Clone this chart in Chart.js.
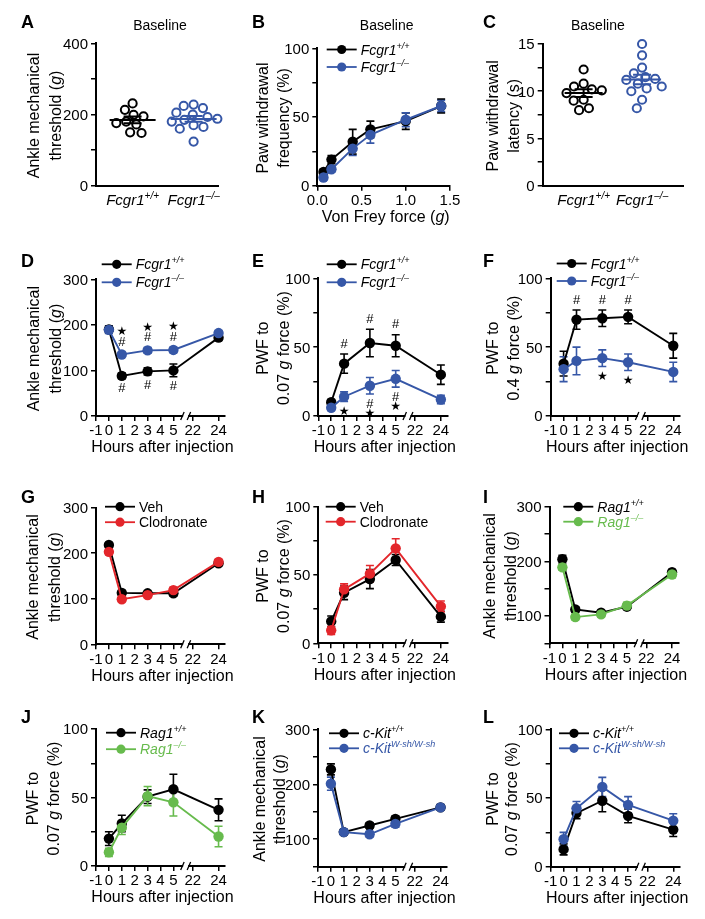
<!DOCTYPE html>
<html>
<head>
<meta charset="utf-8">
<script src="https://cdn.jsdelivr.net/npm/chart.js@4.4.1/dist/chart.umd.min.js"></script>
<style>
  body { margin: 0; background: #fff; }
  #wrap { position: relative; width: 705px; height: 919px; }
  #wrap canvas { position: absolute; left: 0; top: 0; }
</style>
</head>
<body>
<div id="wrap"></div>
<script>
const W = 705, H = 919;
const FONT = '"Liberation Sans", Arial, Helvetica, sans-serif';
const BLACK = '#000000', BLUE = '#3657a7', RED = '#e3262b', GREEN = '#67bb4d';

// ---- A / C: baseline scatter (one value per mouse) ----
const aThreshWt = [231, 213, 199, 195, 180, 176, 172, 150, 148];
const aThreshKo = [228, 224, 218, 205, 200, 193, 188, 185, 180, 170, 165, 160, 124];
const cLatencyWt = [12.3, 10.8, 10.5, 10.2, 10.1, 9.8, 9.1, 9.0, 8.2, 8.0];
const cLatencyKo = [15.0, 13.8, 12.5, 11.9, 11.5, 11.3, 11.2, 10.8, 10.5, 10.3, 10.0, 9.1, 8.2];

// ---- B: von Frey curve ----
const vonFrey = [0.07, 0.16, 0.4, 0.6, 1.0, 1.4];
const bPwfWt = [10, 19, 32, 41, 47, 58];
const bPwfWtSem = [2, 3, 9, 6, 6, 5];
const bPwfKo = [6, 12, 27, 37, 48, 58];
const bPwfKoSem = [2, 2, 5, 6, 5, 4];

// ---- D-L: time courses ----
const hours = [0, 1, 3, 5, 24];
const hourTicks = [-1, 0, 1, 2, 3, 4, 5, 22, 24];

const dWt = [190, 88, 98, 100, 172], dWtSem = [8, 6, 8, 14, 6];
const dKo = [189, 135, 144, 145, 182], dKoSem = [8, 5, 6, 6, 5];
const eWt = [10, 38, 53, 51, 30], eWtSem = [2, 7, 10, 8, 7];
const eKo = [6, 14, 22, 27, 12], eKoSem = [2, 3.5, 6, 6, 3];
const fWt = [38, 70, 71, 72, 51], fWtSem = [9, 7, 6, 5, 9];
const fKo = [34, 40, 42, 39, 32], fKoSem = [9, 10, 6, 6, 7];
const gVeh = [218, 113, 112, 112, 178], gVehSem = [5, 5, 4, 6, 5];
const gClod = [203, 99, 108, 119, 181], gClodSem = [6, 5, 5, 6, 5];
const hVeh = [16, 37, 47, 61, 19.5], hVehSem = [4, 5, 7, 4, 4];
const hClod = [9.5, 39.5, 51, 69.5, 27], hClodSem = [3, 4, 6, 7, 4];
const iWt = [204, 112, 106, 117, 180], iWtSem = [7, 5, 4, 5, 5];
const iKo = [189, 98, 103, 119, 176], iKoSem = [5, 5, 5, 6, 6];
const jWt = [20, 31, 50.6, 56, 41], jWtSem = [5, 6, 5, 11, 8];
const jKo = [10, 28, 51, 46.5, 21.5], jKoSem = [3, 5, 7, 10, 7.5];
const kWt = [227, 113, 125, 137, 158], kWtSem = [10, 4, 5, 5, 4];
const kKo = [201, 113, 109, 128, 158], kKoSem = [12, 5, 5, 6, 5];
const lWt = [12.6, 39, 48, 37, 27], lWtSem = [4, 4, 8, 5, 5];
const lKo = [20, 42.5, 58, 45, 33.5], lKoSem = [5, 5, 7, 6, 5];

// significance marks: series, point, side (1 above / -1 below), marks from the bar outwards
const dMarks = [
  { s: 1, k: 1, side: 1, m: ['#', '★'] }, { s: 1, k: 2, side: 1, m: ['#', '★'] }, { s: 1, k: 3, side: 1, m: ['#', '★'] },
  { s: 0, k: 1, side: -1, m: ['#'] }, { s: 0, k: 2, side: -1, m: ['#'] }, { s: 0, k: 3, side: -1, m: ['#'] }
];
const eMarks = [
  { s: 0, k: 1, side: 1, m: ['#'] }, { s: 0, k: 2, side: 1, m: ['#'] }, { s: 0, k: 3, side: 1, m: ['#'] },
  { s: 1, k: 1, side: -1, m: ['★'] }, { s: 1, k: 2, side: -1, m: ['#', '★'] }, { s: 1, k: 3, side: -1, m: ['#', '★'] }
];
const fMarks = [
  { s: 0, k: 1, side: 1, m: ['#'] }, { s: 0, k: 2, side: 1, m: ['#'] }, { s: 0, k: 3, side: 1, m: ['#'] },
  { s: 1, k: 2, side: -1, m: ['★'] }, { s: 1, k: 3, side: -1, m: ['★'] }
];

// tick values / labels
const ticks0to400 = [0, 100, 200, 300, 400], labels0to400 = [0, 200, 400];
const ticks0to15 = [0, 2.5, 5, 7.5, 10, 12.5, 15], labels0to15 = [0, 5, 10, 15];
const ticks0to100 = [0, 25, 50, 75, 100], labels0to100 = [0, 50, 100];
const ticks0to300 = [0, 100, 200, 300], labels0to300 = [0, 100, 200, 300];
const ticks50to300 = [50, 100, 150, 200, 250, 300], labels50to300 = [100, 200, 300];
const forceTicks = [0, 0.5, 1.0, 1.5], forceLabels = ['0.0', '0.5', '1.0', '1.5'];

// hours -> axis position, 5..22 h is cut out by the axis break
const hourPos = h => (h <= 5 ? h : h - 22 + 6.5);

// ---- text pieces ----
const fcWt = [{ t: 'Fcgr1', i: 1 }, { t: '+/+', i: 1, s: 1 }];
const fcKo = [{ t: 'Fcgr1', i: 1 }, { t: '\u2013/\u2013', i: 1, s: 1 }];
const ragWt = [{ t: 'Rag1', i: 1 }, { t: '+/+', i: 1, s: 1 }];
const ragKo = [{ t: 'Rag1', i: 1 }, { t: '\u2013/\u2013', i: 1, s: 1 }];
const kitWt = [{ t: 'c-Kit', i: 1 }, { t: '+/+', i: 1, s: 1 }];
const kitKo = [{ t: 'c-Kit', i: 1 }, { t: 'W-sh/W-sh', i: 1, s: 1 }];
const ankleTitle = [[{ t: 'Ankle mechanical' }], [{ t: 'threshold (' }, { t: 'g', i: 1 }, { t: ')' }]];
const pwf007Title = [[{ t: 'PWF to' }], [{ t: '0.07 ' }, { t: 'g', i: 1 }, { t: ' force (%)' }]];
const pwf04Title = [[{ t: 'PWF to' }], [{ t: '0.4 ' }, { t: 'g', i: 1 }, { t: ' force (%)' }]];
const hoursTitle = [{ t: 'Hours after injection' }];

const letterX = [21, 252, 483];
const letterY = [28, 267, 503, 723];

const wrap = document.getElementById('wrap');

function mean(a) { return a.reduce((s, v) => s + v, 0) / a.length; }
function sem(a) {
  const m = mean(a);
  return Math.sqrt(a.reduce((s, v) => s + (v - m) * (v - m), 0) / (a.length - 1) / a.length);
}

// draws mixed italic / superscript text, y = visual middle of the caps
function drawRich(ctx, parts, x, y, o) {
  const size = o.size, supSize = Math.round(size * 0.64);
  const fontOf = p => (p.i ? 'italic ' : '') + (p.b ? 'bold ' : '') + (p.s ? supSize : size) + 'px ' + FONT;
  let w = 0;
  parts.forEach(p => { ctx.font = fontOf(p); w += ctx.measureText(p.t).width; });
  let cx = o.align === 'center' ? x - w / 2 : (o.align === 'right' ? x - w : x);
  const base = y + size * 0.36;
  ctx.save();
  ctx.textAlign = 'left';
  ctx.textBaseline = 'alphabetic';
  ctx.fillStyle = o.color || '#000';
  parts.forEach(p => {
    ctx.font = fontOf(p);
    ctx.fillText(p.t, cx, p.s ? base - size * 0.42 : base);
    cx += ctx.measureText(p.t).width;
  });
  ctx.restore();
}

function newCanvas() {
  const c = document.createElement('canvas');
  c.width = W; c.height = H;
  c.style.width = W + 'px'; c.style.height = H + 'px';
  wrap.appendChild(c);
  return c;
}

function axisOpts(extra) {
  return Object.assign({
    type: 'linear',
    ticks: { display: false },
    grid: { display: true, drawOnChartArea: false, drawTicks: true, tickLength: 5, color: '#000', lineWidth: 1.5 },
    border: { display: true, color: '#000', width: 2 }
  }, extra);
}

// everything that is text, plus error bars, legend, break marks
function panelPlugin(p) {
  return {
    id: 'panel' + p.letter,
    afterDatasetsUpdate(chart) {
      if (!p.swarm) return;
      // simple beeswarm so open circles do not sit on top of each other
      const D = 10;
      chart.data.datasets.forEach((ds, i) => {
        const pts = chart.getDatasetMeta(i).data;
        const placed = [];
        const order = pts.map((q, k) => k).sort((a, b) => pts[a].y - pts[b].y);
        order.forEach(k => {
          const pt = pts[k];
          const cands = [0];
          placed.forEach(q => {
            const dy = pt.y - q.y;
            if (Math.abs(dy) < D) {
              const w = Math.sqrt(D * D - dy * dy);
              cands.push(q.dx - w, q.dx + w);
            }
          });
          cands.sort((a, b) => Math.abs(a) - Math.abs(b));
          const dx = cands.find(c => placed.every(q => (c - q.dx) ** 2 + (pt.y - q.y) ** 2 >= D * D - 0.01));
          placed.push({ dx: dx, y: pt.y });
          pt.x += dx;
        });
      });
    },
    beforeDatasetsDraw(chart) {
      if (!p.series) return;
      const ctx = chart.ctx, ys = chart.scales.y;
      p.series.forEach((s, i) => {
        const meta = chart.getDatasetMeta(i);
        ctx.save();
        ctx.strokeStyle = s.color;
        ctx.lineWidth = 1.6;
        meta.data.forEach((pt, k) => {
          const y1 = ys.getPixelForValue(s.mean[k] + s.sem[k]);
          const y2 = ys.getPixelForValue(s.mean[k] - s.sem[k]);
          ctx.beginPath();
          ctx.moveTo(pt.x, y1); ctx.lineTo(pt.x, y2);
          ctx.moveTo(pt.x - 4, y1); ctx.lineTo(pt.x + 4, y1);
          ctx.moveTo(pt.x - 4, y2); ctx.lineTo(pt.x + 4, y2);
          ctx.stroke();
        });
        ctx.restore();
      });
    },
    afterDatasetsDraw(chart) {
      if (!p.swarm) return;
      // mean +/- SEM lines on the scatter panels
      const ctx = chart.ctx, xs = chart.scales.x, ys = chart.scales.y;
      p.swarm.forEach((g, i) => {
        const cx = xs.getPixelForValue(i);
        const m = ys.getPixelForValue(mean(g.values));
        const e = sem(g.values);
        const y1 = ys.getPixelForValue(mean(g.values) + e), y2 = ys.getPixelForValue(mean(g.values) - e);
        ctx.save();
        ctx.strokeStyle = g.color;
        ctx.lineWidth = 2;
        ctx.beginPath();
        ctx.moveTo(cx - p.meanW / 2, m); ctx.lineTo(cx + p.meanW / 2, m);
        ctx.moveTo(cx, y1); ctx.lineTo(cx, y2);
        ctx.moveTo(cx - 9, y1); ctx.lineTo(cx + 9, y1);
        ctx.moveTo(cx - 9, y2); ctx.lineTo(cx + 9, y2);
        ctx.stroke();
        ctx.restore();
      });
    },
    afterDraw(chart) {
      const ctx = chart.ctx, xs = chart.scales.x, ys = chart.scales.y, ca = chart.chartArea;

      if (p.breakAt !== undefined) {
        const bx = xs.getPixelForValue(p.breakAt), by = ca.bottom;
        ctx.save();
        ctx.fillStyle = '#fff';
        ctx.fillRect(bx - 2.5, by - 2, 5, 4);
        ctx.strokeStyle = '#000';
        ctx.lineWidth = 1.3;
        ctx.beginPath();
        ctx.moveTo(bx - 5, by + 4); ctx.lineTo(bx - 1.5, by - 4);
        ctx.moveTo(bx + 1.5, by + 4); ctx.lineTo(bx + 5, by - 4);
        ctx.stroke();
        ctx.restore();
      }

      // panel letter
      ctx.save();
      ctx.fillStyle = '#000';
      ctx.font = 'bold 18px ' + FONT;
      ctx.textAlign = 'left';
      ctx.textBaseline = 'alphabetic';
      ctx.fillText(p.letter, letterX[p.col], letterY[p.row]);
      ctx.restore();

      if (p.title) drawRich(ctx, [{ t: p.title }], (ca.left + ca.right) / 2 + p.titleDx, 25, { size: 14, align: 'center' });

      p.yLabels.forEach(v => drawRich(ctx, [{ t: String(v) }], ca.left - 8, ys.getPixelForValue(v), { size: 15, align: 'right' }));
      p.xLabels.forEach(l => drawRich(ctx, l.parts, xs.getPixelForValue(l.v), ca.bottom + 14, { size: 15, align: 'center' }));
      if (p.xTitle) drawRich(ctx, p.xTitle, (ca.left + ca.right) / 2 + 2, ca.bottom + 30.5, { size: 16, align: 'center' });

      p.yTitle.forEach((parts, k) => {
        ctx.save();
        ctx.translate(p.yTx[k], (ca.top + ca.bottom) / 2 + 1);
        ctx.rotate(-Math.PI / 2);
        drawRich(ctx, parts, 0, 0, { size: 16, align: 'center' });
        ctx.restore();
      });

      if (p.legend) {
        p.series.forEach((s, j) => {
          const y = p.legend.y + j * p.legend.dy, x0 = p.legend.x;
          ctx.save();
          ctx.strokeStyle = s.color;
          ctx.fillStyle = s.color;
          ctx.lineWidth = 1.8;
          ctx.beginPath(); ctx.moveTo(x0, y); ctx.lineTo(x0 + 30, y); ctx.stroke();
          ctx.beginPath(); ctx.arc(x0 + 15, y, 4.6, 0, Math.PI * 2); ctx.fill();
          ctx.restore();
          drawRich(ctx, s.label, x0 + 34, y, { size: 14, align: 'left', color: s.labelColor });
        });
      }

      (p.marks || []).forEach(a => {
        const s = p.series[a.s];
        const pt = chart.getDatasetMeta(a.s).data[a.k];
        const edge = ys.getPixelForValue(s.mean[a.k] + a.side * s.sem[a.k]);
        a.m.forEach((m, j) => {
          ctx.save();
          ctx.fillStyle = '#000';
          ctx.font = m === '★' ? '12px "DejaVu Sans"' : '13px ' + FONT;
          ctx.textAlign = 'center';
          ctx.textBaseline = 'middle';
          ctx.fillText(m, pt.x, edge - a.side * (10 + 10 * j));
          ctx.restore();
        });
      });
    }
  };
}

function makeChart(p, datasets, xOpts) {
  const r = p.rect;
  new Chart(newCanvas(), {
    type: 'scatter',
    data: { datasets: datasets },
    options: {
      responsive: false,
      animation: false,
      events: [],
      devicePixelRatio: 1,
      layout: { padding: { left: 0, top: r.t, right: W - r.r, bottom: H - r.b - 20 } },
      plugins: { legend: { display: false }, tooltip: { enabled: false } },
      scales: {
        x: axisOpts(Object.assign({
          afterFit: s => { s.height = 20; }
        }, xOpts)),
        y: axisOpts({
          min: p.y.min, max: p.y.max,
          afterBuildTicks: s => { s.ticks = p.y.ticks.map(v => ({ value: v })); },
          afterFit: s => { s.width = r.l; }
        })
      }
    },
    plugins: [panelPlugin(p)]
  });
}

function lineChart(p) {
  const datasets = p.series.map((s, i) => ({
    data: s.x.map((x, k) => ({ x: x, y: s.mean[k] })),
    showLine: true,
    borderColor: s.color,
    backgroundColor: s.color,
    borderWidth: 1.9,
    pointRadius: 5.2,
    pointHoverRadius: 5.2,
    pointBorderWidth: 0,
    clip: false,
    order: i === 0 ? 1 : 0
  }));
  let xOpts;
  if (p.time) {
    p.breakAt = 5.95;
    p.xLabels = hourTicks.map(h => ({ v: hourPos(h), parts: [{ t: String(h) }] }));
    p.xTitle = hoursTitle;
    xOpts = { min: -1, max: 9, afterBuildTicks: s => { s.ticks = hourTicks.map(h => ({ value: hourPos(h) })); } };
  } else {
    xOpts = p.xOpts;
  }
  makeChart(p, datasets, xOpts);
}

function swarmChart(p) {
  const datasets = p.swarm.map((g, i) => ({
    data: g.values.map(v => ({ x: i, y: v })),
    borderColor: g.color,
    backgroundColor: 'rgba(255,255,255,0)',
    pointRadius: 4.1,
    pointHoverRadius: 4.1,
    pointBorderWidth: 2,
    clip: false
  }));
  p.xLabels = p.swarm.map((g, i) => ({ v: i, parts: g.label }));
  makeChart(p, datasets, {
    min: p.xRange[0], max: p.xRange[1],
    grid: { display: false },
    afterBuildTicks: s => { s.ticks = []; }
  });
}

// ---------- panels ----------
swarmChart({
  letter: 'A', col: 0, row: 0, rect: { l: 96, t: 43.3, r: 218, b: 185.7 },
  title: 'Baseline', titleDx: 3, meanW: 46, xRange: [-0.6, 1.4],
  y: { min: 0, max: 400, ticks: ticks0to400 }, yLabels: labels0to400,
  yTitle: ankleTitle, yTx: [33.5, 55],
  swarm: [{ values: aThreshWt, color: BLACK, label: fcWt }, { values: aThreshKo, color: BLUE, label: fcKo }]
});

lineChart({
  letter: 'B', col: 1, row: 0, rect: { l: 317.3, t: 48.3, r: 450, b: 185.7 },
  title: 'Baseline', titleDx: 3,
  y: { min: 0, max: 100, ticks: ticks0to100 }, yLabels: labels0to100,
  yTitle: [[{ t: 'Paw withdrawal' }], [{ t: 'frequency (%)' }]], yTx: [262, 283.5],
  xOpts: { min: 0, max: 1.5, afterBuildTicks: s => { s.ticks = forceTicks.map(v => ({ value: v })); } },
  xLabels: forceTicks.map((v, k) => ({ v: v, parts: [{ t: forceLabels[k] }] })),
  xTitle: [{ t: 'Von Frey force (' }, { t: 'g', i: 1 }, { t: ')' }],
  legend: { x: 326.7, y: 49.5, dy: 17.5 },
  series: [
    { x: vonFrey, mean: bPwfWt, sem: bPwfWtSem, color: BLACK, label: fcWt, labelColor: BLACK },
    { x: vonFrey, mean: bPwfKo, sem: bPwfKoSem, color: BLUE, label: fcKo, labelColor: BLACK }
  ]
});

swarmChart({
  letter: 'C', col: 2, row: 0, rect: { l: 542.7, t: 44, r: 683, b: 185.7 },
  title: 'Baseline', titleDx: -15, meanW: 38, xRange: [-0.7, 1.7],
  y: { min: 0, max: 15, ticks: ticks0to15 }, yLabels: labels0to15,
  yTitle: [[{ t: 'Paw withdrawal' }], [{ t: 'latency (s)' }]], yTx: [492, 513.5],
  swarm: [{ values: cLatencyWt, color: BLACK, label: fcWt }, { values: cLatencyKo, color: BLUE, label: fcKo }]
});

const hx = hours.map(hourPos);
function pair(wt, wtSem, ko, koSem, c2, l1, l2, lc2) {
  return [
    { x: hx, mean: wt, sem: wtSem, color: BLACK, label: l1, labelColor: BLACK },
    { x: hx, mean: ko, sem: koSem, color: c2, label: l2, labelColor: lc2 }
  ];
}
const vehLab = [{ t: 'Veh' }], clodLab = [{ t: 'Clodronate' }];

lineChart({
  letter: 'D', col: 0, row: 1, rect: { l: 96, t: 279.3, r: 225, b: 416 }, time: true,
  y: { min: 0, max: 300, ticks: ticks0to300 }, yLabels: labels0to300, yTitle: ankleTitle, yTx: [33.5, 55],
  legend: { x: 101.7, y: 264.3, dy: 18 }, marks: dMarks,
  series: pair(dWt, dWtSem, dKo, dKoSem, BLUE, fcWt, fcKo, BLACK)
});
lineChart({
  letter: 'E', col: 1, row: 1, rect: { l: 318.3, t: 278.3, r: 447.3, b: 416 }, time: true,
  y: { min: 0, max: 100, ticks: ticks0to100 }, yLabels: labels0to100, yTitle: pwf007Title, yTx: [262, 283.5],
  legend: { x: 326.7, y: 264.3, dy: 18 }, marks: eMarks,
  series: pair(eWt, eWtSem, eKo, eKoSem, BLUE, fcWt, fcKo, BLACK)
});
lineChart({
  letter: 'F', col: 2, row: 1, rect: { l: 550.7, t: 278.3, r: 679.7, b: 416 }, time: true,
  y: { min: 0, max: 100, ticks: ticks0to100 }, yLabels: labels0to100, yTitle: pwf04Title, yTx: [492, 513.5],
  legend: { x: 556.7, y: 263.5, dy: 17.5 }, marks: fMarks,
  series: pair(fWt, fWtSem, fKo, fKoSem, BLUE, fcWt, fcKo, BLACK)
});
lineChart({
  letter: 'G', col: 0, row: 2, rect: { l: 96, t: 507.7, r: 225, b: 644.3 }, time: true,
  y: { min: 0, max: 300, ticks: ticks0to300 }, yLabels: labels0to300, yTitle: ankleTitle, yTx: [32, 54.5],
  legend: { x: 105, y: 506.7, dy: 15.5 },
  series: pair(gVeh, gVehSem, gClod, gClodSem, RED, vehLab, clodLab, BLACK)
});
lineChart({
  letter: 'H', col: 1, row: 2, rect: { l: 318.3, t: 506.7, r: 447.3, b: 643.3 }, time: true,
  y: { min: 0, max: 100, ticks: ticks0to100 }, yLabels: labels0to100, yTitle: pwf007Title, yTx: [262, 283.5],
  legend: { x: 325.7, y: 506.7, dy: 15 },
  series: pair(hVeh, hVehSem, hClod, hClodSem, RED, vehLab, clodLab, BLACK)
});
lineChart({
  letter: 'I', col: 2, row: 2, rect: { l: 549.5, t: 506.7, r: 678.5, b: 643.3 }, time: true,
  y: { min: 50, max: 300, ticks: ticks50to300 }, yLabels: labels50to300, yTitle: ankleTitle, yTx: [489.5, 510],
  legend: { x: 563.3, y: 506.7, dy: 15 },
  series: pair(iWt, iWtSem, iKo, iKoSem, GREEN, ragWt, ragKo, GREEN)
});
lineChart({
  letter: 'J', col: 0, row: 3, rect: { l: 96, t: 729, r: 225, b: 866 }, time: true,
  y: { min: 0, max: 100, ticks: ticks0to100 }, yLabels: labels0to100, yTitle: pwf007Title, yTx: [32, 53.5],
  legend: { x: 106, y: 732.7, dy: 16.5 },
  series: pair(jWt, jWtSem, jKo, jKoSem, GREEN, ragWt, ragKo, GREEN)
});
lineChart({
  letter: 'K', col: 1, row: 3, rect: { l: 318, t: 729.3, r: 447, b: 866.7 }, time: true,
  y: { min: 50, max: 300, ticks: ticks50to300 }, yLabels: labels50to300, yTitle: ankleTitle, yTx: [259.5, 279.5],
  legend: { x: 329, y: 733.3, dy: 15 },
  series: pair(kWt, kWtSem, kKo, kKoSem, BLUE, kitWt, kitKo, BLUE)
});
lineChart({
  letter: 'L', col: 2, row: 3, rect: { l: 550.7, t: 729.3, r: 679.7, b: 866.7 }, time: true,
  y: { min: 0, max: 100, ticks: ticks0to100 }, yLabels: labels0to100, yTitle: pwf007Title, yTx: [492, 511.5],
  legend: { x: 559, y: 733.3, dy: 15 },
  series: pair(lWt, lWtSem, lKo, lKoSem, BLUE, kitWt, kitKo, BLUE)
});
</script>
</body>
</html>
